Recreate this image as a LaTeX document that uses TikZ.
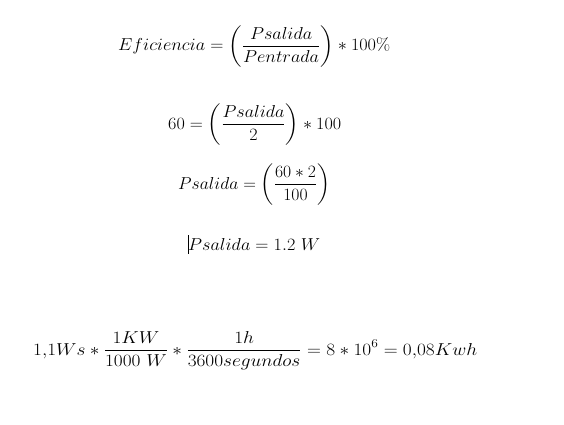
\documentclass[tikz,border=0pt]{standalone}
\usepackage{amsmath}
\usepackage{graphicx}
\begin{document}
\begin{tikzpicture}[x=1pt,y=-1pt,
  eq/.style={inner sep=0pt, anchor=base west, font=\fontsize{17.28}{20}\selectfont}]
\useasboundingbox[fill=white] (0,0) rectangle (564,425);
\node[eq] (e1) at (118,51) {\resizebox{272pt}{\height}{$\displaystyle Eficiencia=\left(\frac{Psalida}{Pentrada}\right)\ast 100\%$}};
\node[eq] (e2) at (168,129) {\resizebox{173pt}{\height}{$\displaystyle 60=\left(\frac{Psalida}{2}\right)\ast 100$}};
\node[eq] (e3) at (178,189) {\resizebox{152pt}{\height}{$\displaystyle Psalida=\left(\frac{60\ast 2}{100}\right)$}};
\node[eq] (e4) at (188,250) {\resizebox{132pt}{\height}{$\displaystyle Psalida=1.2\ W$}};
\node[eq] (e5) at (33,355) {\resizebox{444pt}{\height}{$\displaystyle 1{,}1Ws\ast\frac{1KW}{1000\ W}\ast\frac{1h}{3600segundos}=8\ast 10^{6}=0{,}08Kwh$}};
\draw[line width=0.8pt] (188.5,235) -- (188.5,254);
\end{tikzpicture}
\end{document}
